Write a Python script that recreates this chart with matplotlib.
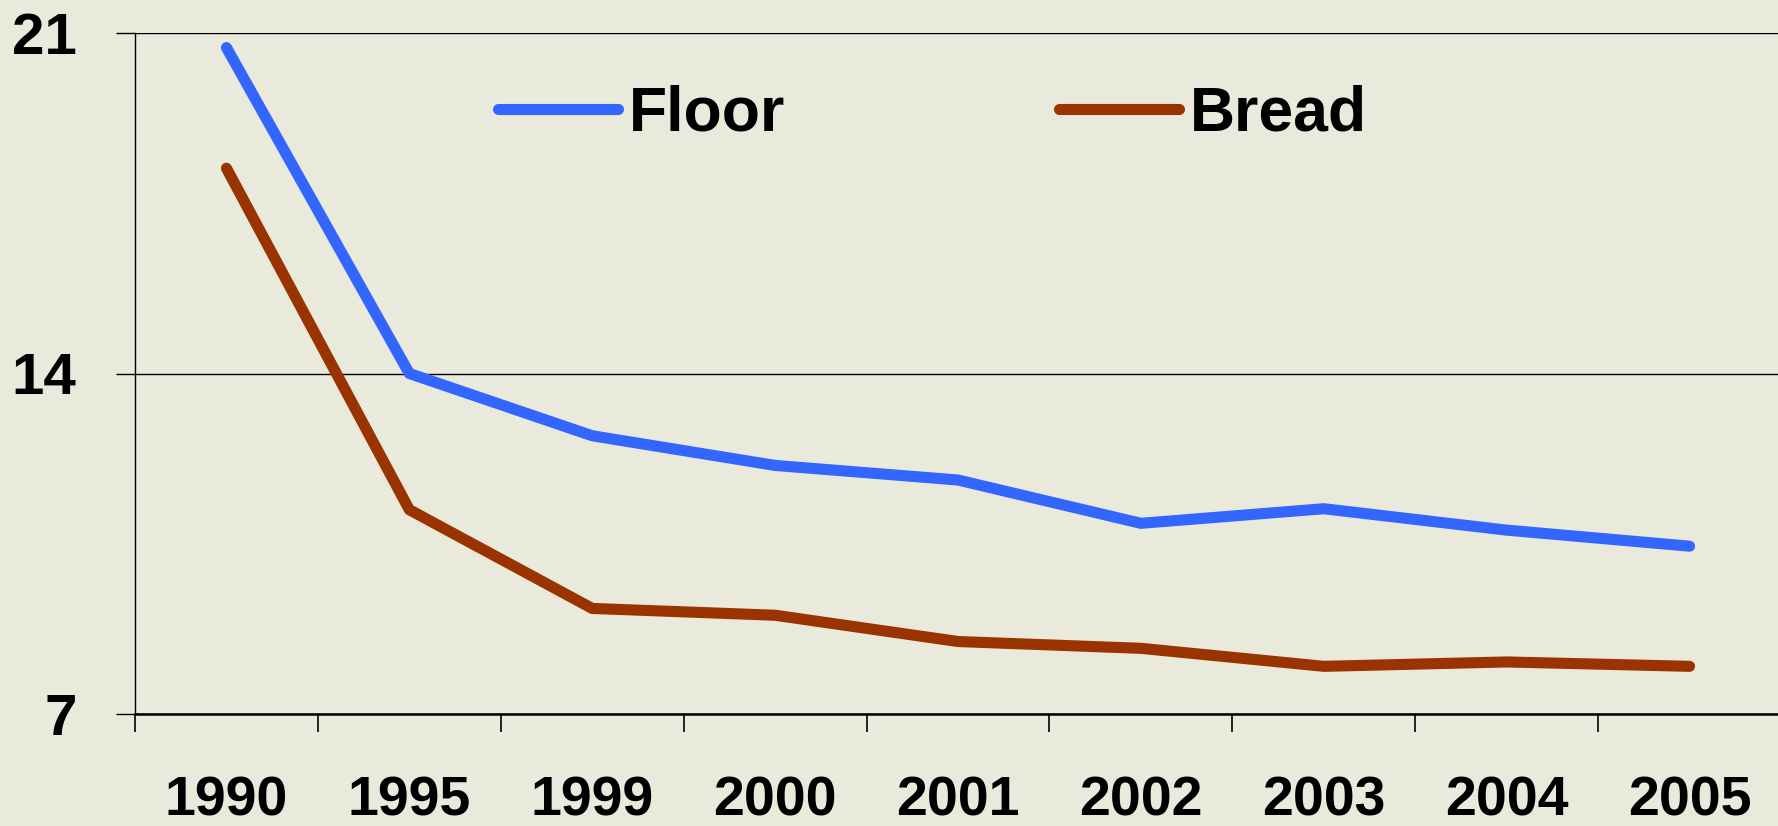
import numpy as np
import matplotlib.pyplot as plt

years = ["1990", "1995", "1999", "2000", "2001", "2002", "2003", "2004", "2005"]
floor = [20.7, 14.0, 12.72, 12.11, 11.81, 10.92, 11.22, 10.78, 10.45]
bread = [18.22, 11.2, 9.17, 9.03, 8.49, 8.35, 7.98, 8.07, 7.98]
y_ticks = [7, 14, 21]

bg = "#EAEADC"
plt.rcParams["font.family"] = ["Liberation Sans", "DejaVu Sans"]
plt.rcParams["font.weight"] = "bold"

fig = plt.figure(figsize=(17.78, 8.26), dpi=100, facecolor=bg)
# plot area: left 135px, right ~1781px (past the edge), top 33px, bottom 714px
ax = fig.add_axes([135 / 1778, 1 - 714 / 826, 1646 / 1778, 681 / 826])
ax.set_facecolor(bg)

x = np.arange(len(years))
ax.plot(x, floor, color="#3366FF", lw=8, solid_capstyle="round",
        solid_joinstyle="round", label="Floor")
ax.plot(x, bread, color="#993300", lw=8, solid_capstyle="round",
        solid_joinstyle="round", label="Bread")

ax.set_xlim(-0.5, len(years) - 0.5)
ax.set_ylim(7, 21)
ax.set_yticks(y_ticks)
ax.set_yticklabels([str(v) for v in y_ticks], fontsize=42, fontweight="bold")
ax.set_xticks(x)
ax.set_xticklabels(years, fontsize=40, fontweight="bold")
ax.tick_params(axis="x", length=0, pad=44)
ax.set_xticks(np.arange(len(years) + 1) - 0.5, minor=True)
ax.tick_params(axis="x", which="minor", length=13, width=1.2, direction="out")
ax.tick_params(axis="y", length=14, width=1, pad=28)

ax.yaxis.grid(True, color="black", lw=1)
ax.set_axisbelow(True)
for s in ["top", "right"]:
    ax.spines[s].set_visible(False)
ax.spines["left"].set_linewidth(1)
ax.spines["bottom"].set_linewidth(1.8)

leg = fig.legend(*ax.get_legend_handles_labels(), loc="center left",
                 bbox_to_anchor=(498 / 1778, 1 - 114 / 826), ncol=2,
                 frameon=False, fontsize=45, handlelength=1.92,
                 handletextpad=0.17, columnspacing=4.38,
                 borderpad=0, borderaxespad=0)
for t in leg.get_texts():
    t.set_fontweight("bold")

fig.savefig("out.png", dpi=100, facecolor=bg)
